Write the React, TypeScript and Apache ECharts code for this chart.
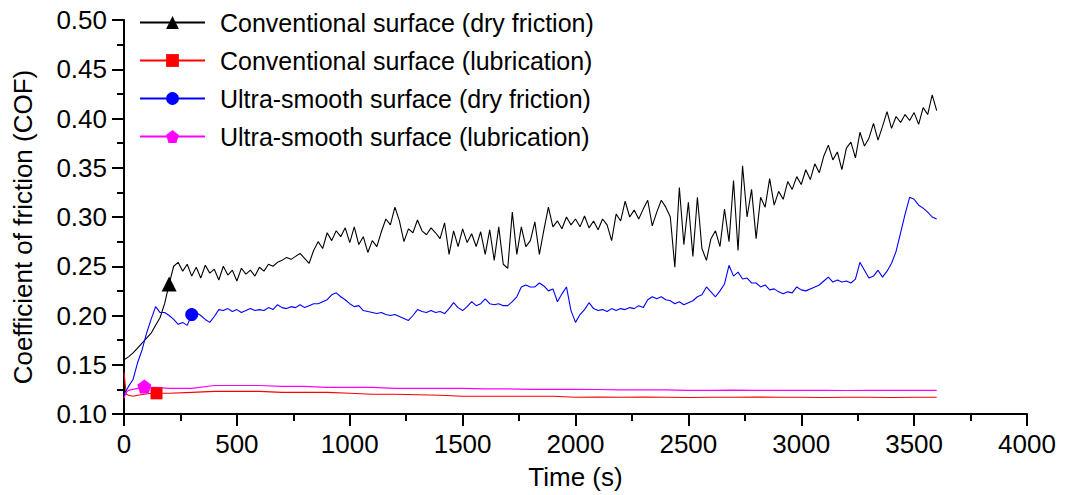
import React, { useEffect, useRef } from "react";
import * as echarts from "echarts";

// Time grid for dry-friction series (s)
const dryTime: number[] = Array.from({ length: 181 }, (_, i) => i * 20);

const convDry: number[] = [
  0.155, 0.158, 0.162, 0.167, 0.172, 0.177, 0.182, 0.190, 0.198, 0.212,
  0.232, 0.250, 0.254, 0.245, 0.252, 0.240, 0.249, 0.238, 0.251, 0.243,
  0.247, 0.236, 0.250, 0.241, 0.246, 0.235, 0.248, 0.242, 0.246, 0.240,
  0.249, 0.245, 0.252, 0.250, 0.254, 0.256, 0.259, 0.257, 0.260, 0.263,
  0.258, 0.253, 0.266, 0.275, 0.268, 0.284, 0.276, 0.286, 0.280, 0.289,
  0.274, 0.290, 0.272, 0.280, 0.264, 0.276, 0.270, 0.285, 0.298, 0.292,
  0.310, 0.296, 0.275, 0.288, 0.284, 0.297, 0.286, 0.282, 0.289, 0.284,
  0.278, 0.294, 0.262, 0.286, 0.270, 0.288, 0.274, 0.283, 0.270, 0.285,
  0.262, 0.287, 0.256, 0.290, 0.252, 0.248, 0.305, 0.262, 0.290, 0.270,
  0.276, 0.295, 0.262, 0.287, 0.310, 0.290, 0.296, 0.288, 0.300, 0.292,
  0.298, 0.290, 0.301, 0.289, 0.296, 0.287, 0.298, 0.292, 0.276, 0.303,
  0.296, 0.316, 0.300, 0.307, 0.298, 0.308, 0.317, 0.291, 0.305, 0.317,
  0.310, 0.300, 0.249, 0.330, 0.272, 0.315, 0.260, 0.320, 0.268, 0.256,
  0.278, 0.286, 0.270, 0.308, 0.275, 0.337, 0.266, 0.352, 0.300, 0.328,
  0.278, 0.320, 0.310, 0.339, 0.312, 0.326, 0.318, 0.336, 0.328, 0.341,
  0.333, 0.348, 0.338, 0.354, 0.345, 0.362, 0.373, 0.358, 0.366, 0.348,
  0.370, 0.376, 0.360, 0.386, 0.372, 0.380, 0.395, 0.378, 0.392, 0.407,
  0.390, 0.402, 0.396, 0.404, 0.398, 0.406, 0.394, 0.411, 0.404, 0.424,
  0.408,
];

const smoothDry: number[] = [
  0.120, 0.128, 0.135, 0.152, 0.165, 0.182, 0.196, 0.209, 0.203, 0.203,
  0.200, 0.196, 0.191, 0.193, 0.190, 0.201, 0.203, 0.200, 0.196, 0.193,
  0.199, 0.206, 0.205, 0.207, 0.204, 0.206, 0.203, 0.205, 0.207, 0.205,
  0.206, 0.205, 0.208, 0.206, 0.211, 0.208, 0.207, 0.209, 0.208, 0.211,
  0.208, 0.210, 0.212, 0.212, 0.214, 0.216, 0.221, 0.223, 0.219, 0.216,
  0.212, 0.209, 0.210, 0.205, 0.204, 0.203, 0.202, 0.203, 0.201, 0.200,
  0.201, 0.199, 0.197, 0.195, 0.200, 0.206, 0.204, 0.203, 0.205, 0.203,
  0.204, 0.202, 0.207, 0.213, 0.208, 0.205, 0.209, 0.214, 0.210, 0.212,
  0.217, 0.212, 0.211, 0.212, 0.210, 0.210, 0.214, 0.219, 0.229, 0.231,
  0.229, 0.229, 0.233, 0.230, 0.225, 0.227, 0.214, 0.222, 0.229, 0.205,
  0.193, 0.201, 0.206, 0.213, 0.207, 0.205, 0.206, 0.204, 0.207, 0.205,
  0.207, 0.206, 0.208, 0.207, 0.210, 0.208, 0.216, 0.219, 0.217, 0.219,
  0.216, 0.215, 0.212, 0.214, 0.211, 0.213, 0.215, 0.219, 0.221, 0.229,
  0.224, 0.219, 0.225, 0.232, 0.251, 0.240, 0.244, 0.237, 0.238, 0.233,
  0.233, 0.229, 0.231, 0.226, 0.227, 0.224, 0.222, 0.224, 0.223, 0.229,
  0.226, 0.225, 0.227, 0.229, 0.231, 0.235, 0.239, 0.234, 0.236, 0.234,
  0.235, 0.233, 0.237, 0.254, 0.246, 0.238, 0.240, 0.246, 0.239, 0.245,
  0.253, 0.265, 0.284, 0.303, 0.320, 0.318, 0.312, 0.309, 0.305, 0.300,
  0.298,
];

// Time grid for lubrication series (s)
const lubTime: number[] = [
  0, 10, 20, 40, 60, 90, 120, 144, 200, 300, 400, 500, 600, 700, 800, 900,
  1000, 1100, 1200, 1300, 1400, 1500, 1600, 1700, 1800, 1900, 2000, 2100,
  2200, 2300, 2400, 2500, 2600, 2700, 2800, 2900, 3000, 3100, 3200, 3300,
  3400, 3500, 3600,
];

const convLub: number[] = [
  0.142, 0.120, 0.119, 0.118, 0.119, 0.120, 0.121, 0.121, 0.121, 0.122,
  0.123, 0.123, 0.123, 0.122, 0.122, 0.122, 0.121, 0.120, 0.120, 0.1195,
  0.119, 0.118, 0.118, 0.118, 0.118, 0.118, 0.117, 0.1172, 0.117, 0.1172,
  0.117, 0.1168, 0.117, 0.117, 0.1172, 0.117, 0.117, 0.1168, 0.117, 0.117,
  0.1168, 0.117, 0.117,
];

const smoothLub: number[] = [
  0.116, 0.122, 0.124, 0.125, 0.126, 0.128, 0.127, 0.127, 0.126, 0.126,
  0.129, 0.129, 0.129, 0.128, 0.128, 0.127, 0.127, 0.127, 0.126, 0.126,
  0.126, 0.126, 0.1255, 0.1255, 0.125, 0.125, 0.125, 0.1248, 0.1245, 0.1245,
  0.1245, 0.124, 0.124, 0.1242, 0.124, 0.124, 0.124, 0.124, 0.1238, 0.124,
  0.124, 0.124, 0.124,
];

const seriesNames: string[] = [
  "Conventional surface (dry friction)",
  "Conventional surface (lubrication)",
  "Ultra-smooth surface (dry friction)",
  "Ultra-smooth surface (lubrication)",
];

const xTicks = { min: 0, max: 4000, step: 500 };
const yTicks = { min: 0.1, max: 0.5, step: 0.05 };

const FONT = "'Liberation Sans', Arial, sans-serif";
const PENTAGON =
  "path://M0,-1 L0.951,-0.309 L0.588,0.809 L-0.588,0.809 L-0.951,-0.309 Z";

function zip(t: number[], v: number[]) {
  return v.map((y, i) => [t[i], y]);
}

export default function App() {
  const ref = useRef<HTMLDivElement>(null);

  useEffect(() => {
    document.body.style.margin = "0";
    if (!ref.current) return;
    const chart = echarts.init(ref.current, undefined, { renderer: "svg" });

    const mk = (
      name: string,
      data: number[][],
      color: string,
      symbol: string,
      markIdx: number,
      markSize: number
    ) => ({
      name,
      type: "line",
      data,
      symbol,
      showSymbol: true,
      showAllSymbol: true,
      symbolSize: (_v: any, p: any) => (p.dataIndex === markIdx ? markSize : 0),
      itemStyle: { color, borderWidth: 0 },
      lineStyle: { color, width: 1.1 },
      emphasis: { disabled: true },
      silent: true,
      z: 2,
    });

    chart.setOption({
      animation: false,
      backgroundColor: "#ffffff",
      textStyle: { fontFamily: FONT },
      grid: { left: 124, right: 42, top: 20, bottom: 81, containLabel: false },
      legend: {
        orient: "vertical",
        left: 139,
        top: 10,
        padding: 0,
        itemWidth: 65,
        itemHeight: 16,
        itemGap: 13,
        selectedMode: false,
        textStyle: {
          fontFamily: FONT,
          fontSize: 25,
          color: "#000",
          padding: [0, 0, 0, 10],
        },
        data: seriesNames,
      },
      xAxis: {
        type: "value",
        min: xTicks.min,
        max: xTicks.max,
        interval: xTicks.step,
        name: "Time (s)",
        nameLocation: "middle",
        nameGap: 50,
        nameTextStyle: { fontFamily: FONT, fontSize: 26, color: "#000" },
        axisLine: { show: true, lineStyle: { color: "#000", width: 2 } },
        axisTick: { show: true, inside: false, length: 12, lineStyle: { color: "#000", width: 2 } },
        minorTick: { show: true, splitNumber: 2, length: 7, lineStyle: { color: "#000", width: 2 } },
        splitLine: { show: false },
        axisLabel: {
          fontFamily: FONT,
          fontSize: 26,
          color: "#000",
          margin: 17,
          formatter: (v: number) => String(v),
        },
      },
      yAxis: {
        type: "value",
        min: yTicks.min,
        max: yTicks.max,
        interval: yTicks.step,
        name: "Coefficient of friction (COF)",
        nameLocation: "middle",
        nameGap: 88,
        nameTextStyle: {
          fontFamily: FONT,
          fontSize: 26,
          color: "#000",
          padding: [0, 20, 0, 0],
        },
        axisLine: { show: true, onZero: false, lineStyle: { color: "#000", width: 2 } },
        axisTick: { show: true, inside: false, length: 12, lineStyle: { color: "#000", width: 2 } },
        minorTick: { show: true, splitNumber: 2, length: 7, lineStyle: { color: "#000", width: 2 } },
        splitLine: { show: false },
        axisLabel: {
          fontFamily: FONT,
          fontSize: 26,
          color: "#000",
          margin: 17,
          formatter: (v: number) => v.toFixed(2),
        },
      },
      series: [
        mk(seriesNames[0], zip(dryTime, convDry), "#000000", "triangle", 10, 15),
        mk(seriesNames[1], zip(lubTime, convLub), "#ff0000", "rect", 7, 12),
        mk(seriesNames[2], zip(dryTime, smoothDry), "#0000ff", "circle", 15, 13),
        mk(seriesNames[3], zip(lubTime, smoothLub), "#ff00ff", PENTAGON, 5, 14),
      ],
    });

    return () => chart.dispose();
  }, []);

  return <div ref={ref} style={{ width: 1069, height: 495 }} />;
}
